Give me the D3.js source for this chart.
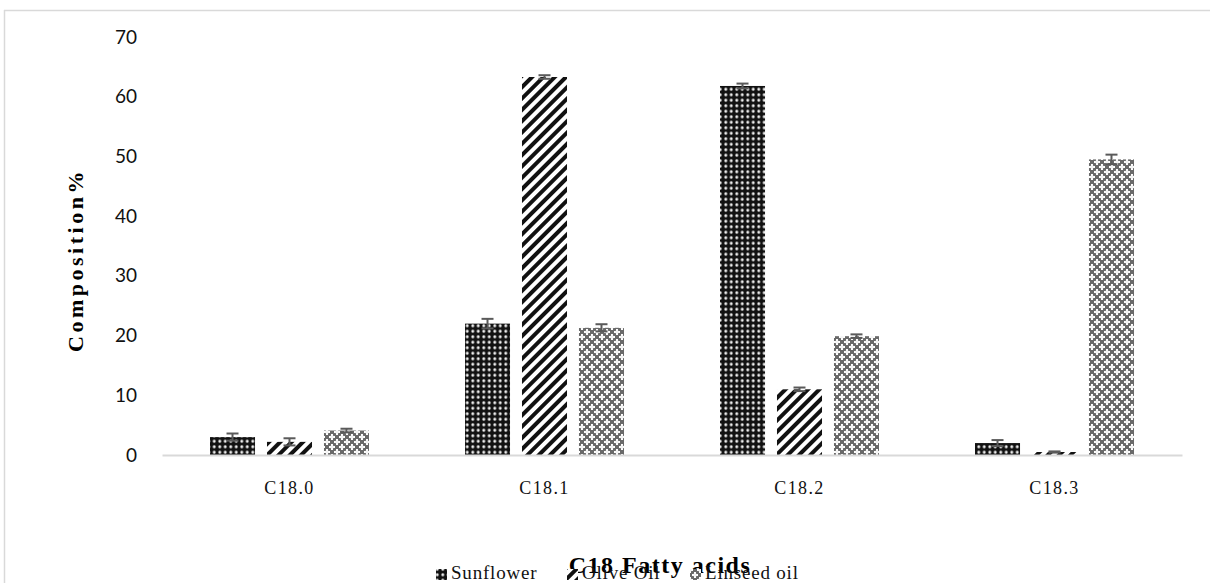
<!DOCTYPE html>
<html>
<head>
<meta charset="utf-8">
<script src="https://cdn.jsdelivr.net/npm/d3@7"></script>
<style>
  body { margin: 0; background: #fff; }
  svg { display: block; }
</style>
</head>
<body>
<div id="chart"></div>
<script>
// data
const categories = ["C18.0", "C18.1", "C18.2", "C18.3"];
const seriesNames = ["Sunflower", "Olive Oil", "Linseed oil"];
const sunflower = [3.0, 22.0, 61.8, 2.0];
const oliveOil = [2.2, 63.3, 11.0, 0.5];
const linseedOil = [4.1, 21.3, 19.9, 49.5];
const sunflowerErr = [0.6, 0.8, 0.4, 0.5];
const oliveErr = [0.6, 0.3, 0.3, 0.1];
const linseedErr = [0.3, 0.6, 0.3, 0.8];
const yTicks = [0, 10, 20, 30, 40, 50, 60, 70];

const values = [sunflower, oliveOil, linseedOil];
const errors = [sunflowerErr, oliveErr, linseedErr];
const patternIds = ["pSun", "pOlive", "pLin"];

const W = 1210, H = 583;
const svg = d3.select("#chart").append("svg")
    .attr("width", W)
    .attr("height", H);

// patterns
const defs = svg.append("defs");

const p1 = defs.append("pattern").attr("id", "pSun")
    .attr("patternUnits", "userSpaceOnUse").attr("width", 5.5).attr("height", 5.5);
p1.append("rect").attr("width", 5.5).attr("height", 5.5).attr("fill", "#111");
p1.append("circle").attr("cx", 2.75).attr("cy", 2.75).attr("r", 1.5).attr("fill", "#eee");

const p2 = defs.append("pattern").attr("id", "pOlive")
    .attr("patternUnits", "userSpaceOnUse").attr("width", 8).attr("height", 8)
    .attr("patternTransform", "rotate(45)");
p2.append("rect").attr("width", 8).attr("height", 8).attr("fill", "#fff");
p2.append("rect").attr("x", 0).attr("width", 4).attr("height", 8).attr("fill", "#111");

const p3 = defs.append("pattern").attr("id", "pLin")
    .attr("patternUnits", "userSpaceOnUse").attr("width", 10).attr("height", 10);
p3.append("rect").attr("width", 10).attr("height", 10).attr("fill", "#6a6a6a");
// white crosses on a grey lattice
[[5, 5], [0, 0], [10, 0], [0, 10], [10, 10]].forEach(([cx, cy]) => {
    p3.append("rect").attr("x", cx - 3).attr("y", cy - 1).attr("width", 6).attr("height", 2).attr("fill", "#fff");
    p3.append("rect").attr("x", cx - 1).attr("y", cy - 3).attr("width", 2).attr("height", 6).attr("fill", "#fff");
    p3.append("circle").attr("cx", cx).attr("cy", cy).attr("r", 1.8).attr("fill", "#f4f4f4");
});

// outer frame (top and left edge like the source)
svg.append("line").attr("x1", 4).attr("x2", W).attr("y1", 10.5).attr("y2", 10.5)
    .attr("stroke", "#d9d9d9").attr("stroke-width", 1.5);
svg.append("line").attr("x1", 4.5).attr("x2", 4.5).attr("y1", 10).attr("y2", H)
    .attr("stroke", "#d9d9d9").attr("stroke-width", 1.5);

const margin = { top: 37, left: 162, right: 28, bottom: 128 };
const width = W - margin.left - margin.right;
const height = 455 - margin.top;

const g = svg.append("g")
    .attr("transform", `translate(${margin.left},${margin.top})`);

const x = d3.scaleBand().domain(categories).range([0, width]).paddingInner(0).paddingOuter(0);
const x1 = d3.scaleBand().domain(seriesNames).range([48, x.bandwidth() - 48]).paddingInner(0.21);
const y = d3.scaleLinear().domain([0, 70]).range([height, 0]);

// y axis (labels only)
const yAxis = g.append("g")
    .call(d3.axisLeft(y).tickValues(yTicks).tickSize(0).tickPadding(25));
yAxis.select(".domain").remove();
yAxis.selectAll("text")
    .attr("font-family", "Lato, 'Open Sans', sans-serif")
    .attr("font-size", 19)
    .attr("fill", "#111");

// bars
seriesNames.forEach((name, si) => {
    g.selectAll(".bar-" + si)
        .data(categories)
        .enter().append("rect")
        .attr("x", d => x(d) + x1(name))
        .attr("y", (d, i) => y(values[si][i]))
        .attr("width", x1.bandwidth())
        .attr("height", (d, i) => y(0) - y(values[si][i]))
        .attr("fill", `url(#${patternIds[si]})`);

    // error bars
    categories.forEach((c, i) => {
        const cx = x(c) + x1(name) + x1.bandwidth() / 2;
        const v = values[si][i], e = errors[si][i];
        const eg = g.append("g").attr("stroke", "#5a5a5a").attr("stroke-width", 2);
        eg.append("line").attr("x1", cx).attr("x2", cx).attr("y1", y(v - e)).attr("y2", y(v + e));
        eg.append("line").attr("x1", cx - 6).attr("x2", cx + 6).attr("y1", y(v + e)).attr("y2", y(v + e));
        eg.append("line").attr("x1", cx - 6).attr("x2", cx + 6).attr("y1", y(v - e)).attr("y2", y(v - e));
    });
});

// x axis
const xAxis = g.append("g")
    .attr("transform", `translate(0,${height})`)
    .call(d3.axisBottom(x).tickSize(0).tickPadding(26));
xAxis.select(".domain").attr("stroke", "#d9d9d9").attr("stroke-width", 2);
xAxis.selectAll("text")
    .attr("font-family", "'Liberation Serif', serif")
    .attr("font-size", 18)
    .attr("letter-spacing", 1.4)
    .attr("fill", "#111");

// axis titles
svg.append("text")
    .attr("transform", "translate(83,260) rotate(-90)")
    .attr("text-anchor", "middle")
    .attr("font-family", "'Liberation Serif', serif")
    .attr("font-weight", "bold")
    .attr("font-size", 22)
    .attr("letter-spacing", 3.5)
    .text("Composition%");

svg.append("text")
    .attr("x", 660).attr("y", 573)
    .attr("text-anchor", "middle")
    .attr("font-family", "'Liberation Serif', serif")
    .attr("font-weight", "bold")
    .attr("font-size", 24)
    .attr("letter-spacing", 1.5)
    .text("C18 Fatty acids");

// legend
const legendX = [436, 567, 690];
const legend = svg.append("g");
seriesNames.forEach((name, i) => {
    legend.append("rect")
        .attr("x", legendX[i]).attr("y", 569)
        .attr("width", 11).attr("height", 11)
        .attr("fill", `url(#${patternIds[i]})`);
    legend.append("text")
        .attr("x", legendX[i] + 15).attr("y", 579)
        .attr("font-family", "'Liberation Serif', serif")
        .attr("font-size", 19)
        .attr("letter-spacing", 0.8)
        .attr("fill", "#111")
        .text(name);
});
</script>
</body>
</html>
